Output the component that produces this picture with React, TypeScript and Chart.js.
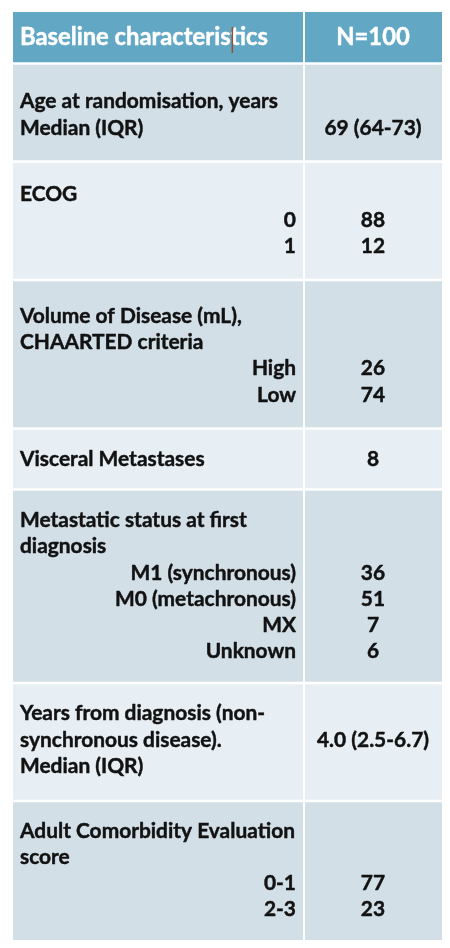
import React, { useEffect, useRef } from "react";
import { Chart, registerables } from "chart.js";

Chart.register(...registerables);

// ---------- data ----------
const headerLabels = ["Baseline characteristics", "N=100"];

const characteristics: string[][] = [
  ["Age at randomisation, years", "Median (IQR)"],
  ["ECOG"],
  ["Volume of Disease (mL),", "CHAARTED criteria"],
  ["Visceral Metastases"],
  ["Metastatic status at first", "diagnosis"],
  ["Years from diagnosis (non-", "synchronous disease).", "Median (IQR)"],
  ["Adult Comorbidity Evaluation", "score"],
];

const subgroups: string[][] = [
  [],
  ["0", "1"],
  ["High", "Low"],
  [],
  ["M1 (synchronous)", "M0 (metachronous)", "MX", "Unknown"],
  [],
  ["0-1", "2-3"],
];

const values: string[][] = [
  ["69 (64-73)"],
  ["88", "12"],
  ["26", "74"],
  ["8"],
  ["36", "51", "7", "6"],
  ["4.0 (2.5-6.7)"],
  ["77", "23"],
];

// line on which a single (non-subgroup) value sits
const valueLine: number[] = [1, 0, 0, 0, 0, 1, 0];

// ---------- layout (table units = px of the 450x948 page) ----------
const W = 450;
const H = 948;
const rowEdges = [12, 63.5, 161.5, 280, 428.5, 489.5, 683, 801, 940];
const rowShift = [2.5, 0, 1.5, 0, 0, -2, 0];
const colEdges = [13, 304, 442];
const textLeft = 20;
const subRight = 296;
const valueCenter = 373;
const lineH = 26.2;
const baseOffset = 6.5;
const headerBaseline = 45;

const COLORS = {
  header: "#62a8c5",
  dark: "#d2dfe7",
  light: "#e8eff4",
  text: "#121212",
  headerText: "#ffffff",
  cursor: "#9c4a2e",
};

const FAMILY = "Lato, 'Open Sans', 'DejaVu Sans', sans-serif";

const tablePlugin = {
  id: "tableDraw",
  beforeDraw(chart: any) {
    const { ctx, scales } = chart;
    const xs = scales.x;
    const ys = scales.y;
    const px = (v: number) => xs.getPixelForValue(v);
    const py = (v: number) => ys.getPixelForValue(v);

    ctx.save();
    ctx.fillStyle = "#ffffff";
    ctx.fillRect(0, 0, chart.width, chart.height);

    // calibrate font sizes to Calibri-like widths
    ctx.font = `700 100px ${FAMILY}`;
    const bodySize = (100 * 258) / ctx.measureText("Age at randomisation, years").width;
    const headSize = (100 * 248) / ctx.measureText("Baseline characteristics").width;
    const bodyFont = `700 ${bodySize.toFixed(2)}px ${FAMILY}`;
    const headFont = `700 ${headSize.toFixed(2)}px ${FAMILY}`;

    const vGap = 2.5;
    const hGap = 2;
    const nRows = rowEdges.length - 1;

    // cells
    for (let r = 0; r < nRows; r++) {
      const top = py(rowEdges[r] + (r > 0 ? vGap / 2 : 0));
      const bot = py(rowEdges[r + 1] - (r < nRows - 1 ? vGap / 2 : 0));
      const fill = r === 0 ? COLORS.header : r % 2 === 1 ? COLORS.dark : COLORS.light;
      for (let c = 0; c < colEdges.length - 1; c++) {
        const left = px(colEdges[c] + (c > 0 ? hGap / 2 : 0));
        const right = px(colEdges[c + 1] - (c < colEdges.length - 2 ? hGap / 2 : 0));
        ctx.fillStyle = fill;
        ctx.fillRect(left, top, right - left, bot - top);
      }
    }

    const draw = (t: string, x: number, y: number, color: string) => {
      ctx.fillStyle = color;
      ctx.strokeStyle = color;
      ctx.lineWidth = 0.45;
      ctx.lineJoin = "round";
      ctx.fillText(t, x, y);
      ctx.strokeText(t, x, y);
    };

    // header text
    ctx.font = headFont;
    ctx.textBaseline = "alphabetic";
    ctx.textAlign = "left";
    draw(headerLabels[0], px(textLeft), py(headerBaseline), COLORS.headerText);
    ctx.textAlign = "center";
    draw(headerLabels[1], px(valueCenter), py(headerBaseline), COLORS.headerText);

    // cursor mark in the header
    ctx.strokeStyle = COLORS.cursor;
    ctx.lineWidth = 1.5;
    ctx.beginPath();
    ctx.moveTo(px(232.3), py(27));
    ctx.lineTo(px(232.3), py(53));
    ctx.stroke();

    // body text
    ctx.font = bodyFont;
    characteristics.forEach((lines, i) => {
      const subs = subgroups[i];
      const vals = values[i];
      const n = lines.length + subs.length;
      const center = (rowEdges[i + 1] + rowEdges[i + 2]) / 2;
      const first = center - ((n - 1) * lineH) / 2 + baseOffset + rowShift[i];
      const baseAt = (k: number) => py(first + k * lineH);

      ctx.textAlign = "left";
      lines.forEach((t, k) => draw(t, px(textLeft), baseAt(k), COLORS.text));

      ctx.textAlign = "right";
      subs.forEach((t, k) => draw(t, px(subRight), baseAt(lines.length + k), COLORS.text));

      ctx.textAlign = "center";
      if (subs.length > 0) {
        vals.forEach((t, k) => draw(t, px(valueCenter), baseAt(lines.length + k), COLORS.text));
      } else {
        vals.forEach((t, k) => draw(t, px(valueCenter), baseAt(valueLine[i] + k), COLORS.text));
      }
    });

    ctx.restore();
  },
};

export default function App() {
  const ref = useRef<HTMLCanvasElement | null>(null);

  useEffect(() => {
    if (!ref.current) return;
    const chart = new Chart(ref.current, {
      type: "scatter",
      data: { datasets: [] },
      options: {
        animation: false,
        responsive: false,
        devicePixelRatio: 1,
        layout: { padding: 0 },
        events: [],
        scales: {
          x: { type: "linear", min: 0, max: W, display: false },
          y: { type: "linear", min: 0, max: H, reverse: true, display: false },
        },
        plugins: {
          legend: { display: false },
          tooltip: { enabled: false },
          title: { display: false },
        },
      },
      plugins: [tablePlugin],
    } as any);
    return () => chart.destroy();
  }, []);

  return (
    <div style={{ position: "absolute", left: 0, top: 0, width: W, height: H, background: "#fff" }}>
      <canvas ref={ref} width={W} height={H} style={{ display: "block", width: W, height: H }} />
    </div>
  );
}
